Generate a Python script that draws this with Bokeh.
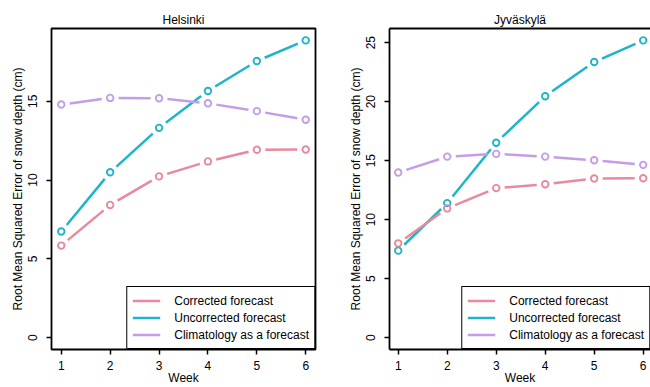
import math
from bokeh.plotting import figure
from bokeh.layouts import row
from bokeh.models import Range1d, FixedTicker, LinearAxis, Legend, LegendItem
from bokeh.embed import file_html
from bokeh.resources import INLINE

# ---------------- data ----------------
weeks = [1, 2, 3, 4, 5, 6]
series_names = ["Corrected forecast", "Uncorrected forecast", "Climatology as a forecast"]
colors = ["#E8899E", "#1EB4C9", "#C49DE6"]

hel_corrected = [5.84, 8.42, 10.23, 11.18, 11.92, 11.94]
hel_uncorrected = [6.73, 10.49, 13.31, 15.65, 17.55, 18.86]
hel_climatology = [14.79, 15.21, 15.19, 14.87, 14.37, 13.82]

jyv_corrected = [7.99, 10.95, 12.67, 13.00, 13.48, 13.51]
jyv_uncorrected = [7.37, 11.40, 16.52, 20.46, 23.36, 25.19]
jyv_climatology = [13.99, 15.34, 15.57, 15.34, 15.03, 14.64]

hel_yticks = [0, 5, 10, 15]
jyv_yticks = [0, 5, 10, 15, 20, 25]
xticks = [1, 2, 3, 4, 5, 6]
x_label = "Week"
y_label = "Root Mean Squared Error of snow depth (cm)"

FONT = "Liberation Sans"
H = 387
MB_TOP = 28
MB_BOTTOM = 37
GAP = 8.5
BOX_W = 1.8


def gapped(xs, ys, sx, sy, gap):
    x0, y0, x1, y1 = [], [], [], []
    for i in range(len(xs) - 1):
        dxd = xs[i + 1] - xs[i]
        dyd = ys[i + 1] - ys[i]
        d = math.hypot(dxd * sx, dyd * sy)
        if d <= 2 * gap:
            continue
        f = gap / d
        x0.append(xs[i] + dxd * f)
        y0.append(ys[i] + dyd * f)
        x1.append(xs[i + 1] - dxd * f)
        y1.append(ys[i + 1] - dyd * f)
    return dict(x0=x0, y0=y0, x1=x1, y1=y1)


def style_axis(ax):
    ax.major_tick_out = 5
    ax.major_tick_in = 0
    ax.minor_tick_line_color = None
    ax.major_tick_line_color = "black"
    ax.major_tick_line_width = 1.5
    ax.major_label_text_font = FONT
    ax.major_label_text_font_size = "12px"
    ax.major_label_text_color = "black"
    ax.axis_label_text_font = FONT
    ax.axis_label_text_font_size = "12px"
    ax.axis_label_text_font_style = "normal"
    ax.axis_label_text_color = "black"


def make_panel(title, corrected, uncorrected, climatology, yticks, xr, width,
               mb_left, mb_right, open_right):
    ymax = max(max(corrected), max(uncorrected), max(climatology))
    pad = 0.04 * ymax
    yr = (-pad, ymax + pad)
    p = figure(width=width, height=H, output_backend="svg", toolbar_location=None,
               x_range=Range1d(*xr), y_range=Range1d(*yr),
               min_border_left=mb_left, min_border_right=mb_right,
               min_border_top=MB_TOP, min_border_bottom=MB_BOTTOM,
               title=title)
    p.title.text_font = FONT
    p.title.text_font_size = "12px"
    p.title.text_font_style = "normal"
    p.title.text_color = "black"
    p.title.align = "center"
    p.title.standoff = 3
    p.xgrid.visible = False
    p.ygrid.visible = False
    p.background_fill_color = "white"
    p.border_fill_color = "white"

    frame_w = width - mb_left - mb_right
    frame_h = H - MB_TOP - MB_BOTTOM
    sx = frame_w / (xr[1] - xr[0])
    sy = frame_h / (yr[1] - yr[0])

    p.xaxis.ticker = FixedTicker(ticks=xticks)
    p.yaxis.ticker = FixedTicker(ticks=yticks)
    p.xaxis.axis_label = x_label
    p.yaxis.axis_label = y_label
    p.yaxis.major_label_orientation = "parallel"
    p.xaxis.major_label_standoff = 6
    p.xaxis.axis_label_standoff = -2
    p.yaxis.major_label_standoff = 9
    p.yaxis.axis_label_standoff = 1
    style_axis(p.xaxis[0])
    style_axis(p.yaxis[0])

    if open_right:
        p.outline_line_color = None
        for ax in (p.xaxis[0], p.yaxis[0]):
            ax.axis_line_color = "black"
            ax.axis_line_width = BOX_W
        top = LinearAxis(ticker=FixedTicker(ticks=[]), major_label_text_font_size="0px",
                         major_tick_out=0, major_tick_in=0, minor_tick_line_color=None,
                         axis_line_color="black", axis_line_width=BOX_W)
        p.add_layout(top, "above")
    else:
        p.outline_line_color = "black"
        p.outline_line_width = BOX_W
        p.outline_line_alpha = 1.0
        p.xaxis.axis_line_color = None
        p.yaxis.axis_line_color = None

    data = {0: corrected, 1: uncorrected, 2: climatology}
    renderers = {}
    for idx in (1, 0, 2):
        ys = data[idx]
        seg = gapped(weeks, ys, sx, sy, GAP)
        r = p.segment(x0="x0", y0="y0", x1="x1", y1="y1", source=seg,
                      line_color=colors[idx], line_width=2.5)
        p.scatter(weeks, ys, marker="circle", size=6.5, fill_color=None,
                  line_color=colors[idx], line_width=1.9)
        renderers[idx] = r

    items = [LegendItem(label=series_names[i], renderers=[renderers[i]]) for i in (0, 1, 2)]
    legend = Legend(items=items, location="bottom_right", margin=0, padding=5, spacing=0,
                    glyph_width=28, glyph_height=17, label_height=17, label_standoff=14,
                    label_text_font=FONT, label_text_font_size="12px",
                    label_text_color="black",
                    border_line_color="black", border_line_width=BOX_W, border_line_alpha=1.0,
                    background_fill_color="white", background_fill_alpha=1.0)
    p.add_layout(legend, "center")
    return p


p1 = make_panel("Helsinki", hel_corrected, hel_uncorrected, hel_climatology, hel_yticks,
                (0.8, 6.2), 338, 51, 23, False)
p2 = make_panel("Jyväskylä", jyv_corrected, jyv_uncorrected, jyv_climatology, jyv_yticks,
                (0.822, 6.149), 312, 51, 0, True)

layout = row(p1, p2)
open("out.html", "w").write(file_html(layout, INLINE))
